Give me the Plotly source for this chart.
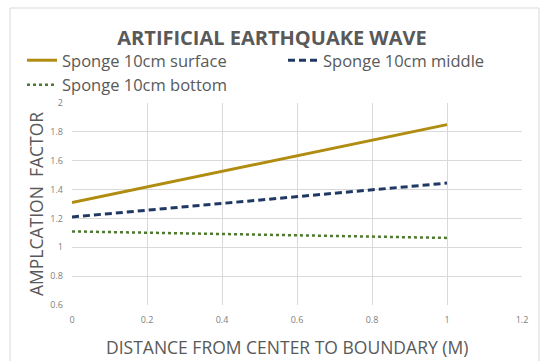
import plotly.graph_objects as go

distance = [0, 1]
surface = [1.31, 1.85]
middle = [1.21, 1.445]
bottom = [1.11, 1.065]
series_names = ["Sponge 10cm surface", "Sponge 10cm middle", "Sponge 10cm bottom"]
x_ticks = [0, 0.2, 0.4, 0.6, 0.8, 1, 1.2]
y_ticks = [0.6, 0.8, 1, 1.2, 1.4, 1.6, 1.8, 2]

FONT = "Open Sans"
TXT = "#595959"

fig = go.Figure()
fig.add_trace(go.Scatter(x=distance, y=surface, mode="lines", name=series_names[0],
                         line=dict(color="#B08C10", width=3)))
fig.add_trace(go.Scatter(x=distance, y=middle, mode="lines", name=series_names[1],
                         line=dict(color="#203864", width=3, dash="7px,4px")))
fig.add_trace(go.Scatter(x=distance, y=bottom, mode="lines", name=series_names[2],
                         line=dict(color="#4E7A2E", width=2.5, dash="dot")))

W, H = 544, 361
ml, mr, mt, mb = 72, 22, 103, 56
pw, ph = W - ml - mr, H - mt - mb

def px_x(p):
    return (p - ml) / pw

def px_y(p):
    return (H - mb - p) / ph

fig.update_layout(
    width=W, height=H,
    margin=dict(l=ml, r=mr, t=mt, b=mb),
    paper_bgcolor="white", plot_bgcolor="white",
    font=dict(family=FONT, color=TXT),
    title=dict(text="<b>ARTIFICIAL EARTHQUAKE WAVE</b>", x=272 / W, xanchor="center",
               xref="container", y=1 - 38 / H, yanchor="middle", yref="container",
               font=dict(size=20, color=TXT, family=FONT)),
    legend=dict(orientation="h", x=px_x(33), xanchor="left", y=px_y(43), yanchor="top",
                font=dict(size=16.5, color=TXT, family=FONT),
                entrywidth=216, entrywidthmode="pixels", itemwidth=30,
                tracegroupgap=0, bgcolor="rgba(0,0,0,0)"),
    xaxis=dict(range=[0, 1.2], tickvals=x_ticks, showgrid=True, gridcolor="#D9D9D9",
               gridwidth=1, zeroline=False, showline=False,
               tickfont=dict(size=9, color="#808080"), ticks="", ticklabelstandoff=8),
    yaxis=dict(range=[0.6, 2], tickvals=y_ticks, showgrid=True, gridcolor="#D9D9D9",
               gridwidth=1, zeroline=False, showline=False,
               tickfont=dict(size=9, color="#808080"), ticks="", ticklabelstandoff=8,
               title=dict(text="AMPLCATION  FACTOR", font=dict(size=17.5, color=TXT), standoff=2)),
    annotations=[dict(text="DISTANCE FROM CENTER TO BOUNDARY (M)", xref="paper", yref="paper",
                      x=px_x(287), y=px_y(347), xanchor="center", yanchor="middle",
                      showarrow=False, font=dict(size=17.5, color=TXT, family=FONT))],
)
fig.add_shape(type="rect", xref="paper", yref="paper",
              x0=px_x(10), x1=px_x(539), y0=px_y(8), y1=px_y(365),
              line=dict(color="#D9D9D9", width=1), fillcolor="rgba(0,0,0,0)", layer="below")
fig.write_html("out.html")
